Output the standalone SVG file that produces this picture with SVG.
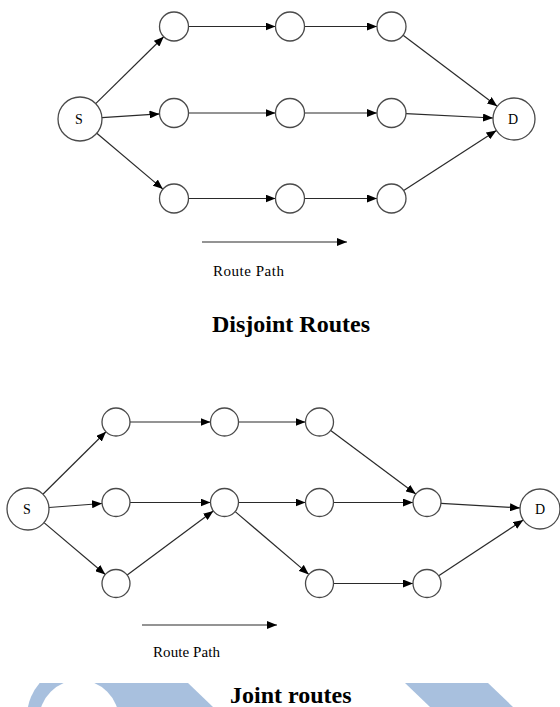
<svg xmlns="http://www.w3.org/2000/svg" width="560" height="707" viewBox="0 0 560 707">
<defs>
<marker id="ah" markerUnits="userSpaceOnUse" markerWidth="10" markerHeight="8" refX="10" refY="4" orient="auto"><path d="M0,0 L10,4 L0,8 z" fill="#000"/></marker>
<clipPath id="band"><rect x="0" y="683" width="560" height="24"/></clipPath>
</defs>
<style>
.n{fill:#fff;stroke:#4a4a4a;stroke-width:1.3}
.e{stroke:#2a2a2a;stroke-width:1.2;fill:none;marker-end:url(#ah)}
.lbl{font-family:"Liberation Serif",serif;font-size:14px;fill:#000;text-anchor:middle}
.rp{font-family:"Liberation Serif",serif;font-size:15px;fill:#000}
.t{font-family:"Liberation Serif",serif;font-size:24px;font-weight:bold;fill:#000}
.wm{fill:#a8c0de}
</style>
<rect width="560" height="707" fill="#fff"/>
<g clip-path="url(#band)">
<circle class="wm" cx="79" cy="717" r="52"/>
<polygon class="wm" points="79,683 188,683 213,707 79,707"/>
<circle cx="79" cy="720" r="40" fill="#fff"/>
<polygon class="wm" points="405,683 488,683 513,707 430,707"/>
</g>
<g id="connectors">
<line class="e" x1="95.7" y1="103.6" x2="163.7" y2="36.7"/>
<line class="e" x1="102" y1="117.6" x2="159.5" y2="113.9"/>
<line class="e" x1="96.8" y1="133.2" x2="162.9" y2="189.1"/>
<line class="e" x1="188.5" y1="26.5" x2="275.5" y2="26.5"/>
<line class="e" x1="304.5" y1="26.5" x2="377" y2="26.5"/>
<line class="e" x1="188.5" y1="113" x2="275.5" y2="113"/>
<line class="e" x1="304.5" y1="113" x2="377" y2="113"/>
<line class="e" x1="188.5" y1="198.5" x2="275.5" y2="198.5"/>
<line class="e" x1="304.5" y1="198.5" x2="377" y2="198.5"/>
<line class="e" x1="403.1" y1="35.2" x2="497.2" y2="106.3"/>
<line class="e" x1="406" y1="113.7" x2="493" y2="118"/>
<line class="e" x1="403.7" y1="190.6" x2="496.4" y2="130.4"/>
<line class="e" x1="202" y1="242" x2="347" y2="242"/>
<line class="e" x1="42.9" y1="494.2" x2="106" y2="431.8"/>
<line class="e" x1="48.9" y1="507.5" x2="102" y2="503.5"/>
<line class="e" x1="44" y1="522.6" x2="105.3" y2="574.5"/>
<line class="e" x1="130" y1="422" x2="210.5" y2="422"/>
<line class="e" x1="130" y1="502.5" x2="210.5" y2="502.5"/>
<line class="e" x1="127.2" y1="575.1" x2="213.3" y2="510.9"/>
<line class="e" x1="238.5" y1="422" x2="305.5" y2="422"/>
<line class="e" x1="238.5" y1="502.5" x2="305.5" y2="502.5"/>
<line class="e" x1="235.2" y1="511.6" x2="308.8" y2="574.4"/>
<line class="e" x1="330.7" y1="430.4" x2="415.8" y2="494.1"/>
<line class="e" x1="333.5" y1="502.5" x2="413" y2="502.5"/>
<line class="e" x1="333.5" y1="583.5" x2="413" y2="583.5"/>
<line class="e" x1="441" y1="503.3" x2="520" y2="507.9"/>
<line class="e" x1="438.7" y1="575.8" x2="523.3" y2="520"/>
<line class="e" x1="142" y1="625" x2="277" y2="625"/>
</g>
<g id="top-S"><circle class="n" cx="80" cy="119" r="22"/><text class="lbl" x="79" y="124">S</text></g>
<g id="top-D"><circle class="n" cx="514" cy="119" r="21"/><text class="lbl" x="513" y="124">D</text></g>
<g id="t11"><circle class="n" cx="174" cy="26.5" r="14.5"/></g>
<g id="t12"><circle class="n" cx="290" cy="26.5" r="14.5"/></g>
<g id="t13"><circle class="n" cx="391.5" cy="26.5" r="14.5"/></g>
<g id="t21"><circle class="n" cx="174" cy="113" r="14.5"/></g>
<g id="t22"><circle class="n" cx="290" cy="113" r="14.5"/></g>
<g id="t23"><circle class="n" cx="391.5" cy="113" r="14.5"/></g>
<g id="t31"><circle class="n" cx="174" cy="198.5" r="14.5"/></g>
<g id="t32"><circle class="n" cx="290" cy="198.5" r="14.5"/></g>
<g id="t33"><circle class="n" cx="391.5" cy="198.5" r="14.5"/></g>
<g id="bot-S"><circle class="n" cx="28" cy="509" r="21"/><text class="lbl" x="27" y="514">S</text></g>
<g id="bot-D"><circle class="n" cx="540" cy="509" r="20"/><text class="lbl" x="540" y="514">D</text></g>
<g id="b11"><circle class="n" cx="116" cy="422" r="14"/></g>
<g id="b12"><circle class="n" cx="224.5" cy="422" r="14"/></g>
<g id="b13"><circle class="n" cx="319.5" cy="422" r="14"/></g>
<g id="b21"><circle class="n" cx="116" cy="502.5" r="14"/></g>
<g id="b22"><circle class="n" cx="224.5" cy="502.5" r="14"/></g>
<g id="b23"><circle class="n" cx="319.5" cy="502.5" r="14"/></g>
<g id="b24"><circle class="n" cx="427" cy="502.5" r="14"/></g>
<g id="b31"><circle class="n" cx="116" cy="583.5" r="14"/></g>
<g id="b33"><circle class="n" cx="319.5" cy="583.5" r="14"/></g>
<g id="b34"><circle class="n" cx="427" cy="583.5" r="14"/></g>
<text class="rp" x="213" y="276" textLength="71">Route Path</text>
<text class="t" x="212" y="332">Disjoint Routes</text>
<text class="rp" x="153" y="657" textLength="67">Route Path</text>
<text class="t" x="230" y="703">Joint routes</text>
</svg>
